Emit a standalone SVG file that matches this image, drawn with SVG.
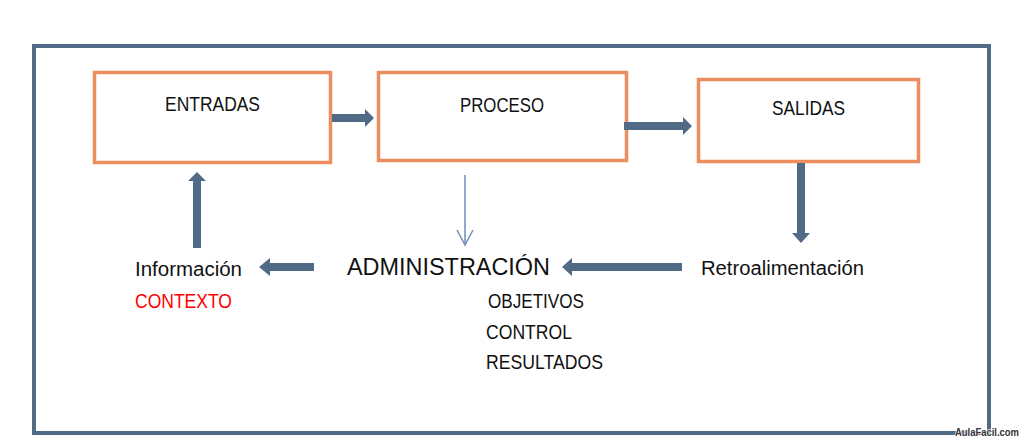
<svg xmlns="http://www.w3.org/2000/svg" width="1024" height="440" viewBox="0 0 1024 440">
<style>
.box{fill:#ffffff;stroke:#ee8d5d;stroke-width:3.5}
.frame{fill:none;stroke:#516a86;stroke-width:4}
.arrow{fill:#516a86}
.t{font-family:"Liberation Sans",Arial,sans-serif;font-size:19.5px;fill:#111111}
.big{font-size:24px}
.red{fill:#ff0000}
.thin{stroke:#6f8db9;stroke-width:1.5;fill:none}
.wm{font-family:"Liberation Sans",Arial,sans-serif;font-size:10.5px;font-weight:bold;fill:#333333;stroke:#ffffff;stroke-width:1.5;paint-order:stroke}
</style>
<rect width="1024" height="440" fill="#ffffff"/>
<rect class="frame" x="34" y="46" width="955" height="387"/>
<g id="entradas">
<rect class="box" x="94.5" y="72.5" width="236" height="90"/>
<text class="t" x="165" y="111" textLength="95" lengthAdjust="spacingAndGlyphs">ENTRADAS</text>
</g>
<g id="proceso">
<rect class="box" x="378.5" y="72.5" width="248" height="88"/>
<text class="t" x="460" y="112" textLength="84" lengthAdjust="spacingAndGlyphs">PROCESO</text>
</g>
<g id="salidas">
<rect class="box" x="698.5" y="79.5" width="220" height="82"/>
<text class="t" x="772" y="115" textLength="73" lengthAdjust="spacingAndGlyphs">SALIDAS</text>
</g>
<g id="informacion">
<text class="t" x="135" y="276" textLength="107" lengthAdjust="spacingAndGlyphs">Información</text>
<text class="t red" x="135" y="308" textLength="97" lengthAdjust="spacingAndGlyphs">CONTEXTO</text>
</g>
<g id="administracion">
<text class="t big" x="347" y="275" textLength="203" lengthAdjust="spacingAndGlyphs">ADMINISTRACIÓN</text>
<text class="t" x="488" y="308" textLength="96" lengthAdjust="spacingAndGlyphs">OBJETIVOS</text>
<text class="t" x="486" y="339" textLength="86" lengthAdjust="spacingAndGlyphs">CONTROL</text>
<text class="t" x="486" y="369" textLength="117" lengthAdjust="spacingAndGlyphs">RESULTADOS</text>
</g>
<g id="retroalimentacion">
<text class="t" x="701" y="275" textLength="163" lengthAdjust="spacingAndGlyphs">Retroalimentación</text>
</g>
<g id="connectors">
<polygon class="arrow" points="332,114 365,114 365,109 374,118 365,127 365,122 332,122"/>
<polygon class="arrow" points="624,122 683,122 683,117 692,126 683,135 683,130 624,130"/>
<polygon class="arrow" points="797,163 805,163 805,233 810,233 801,243 792,233 797,233"/>
<polygon class="arrow" points="682,263 572,263 572,258 562,267 572,276 572,271 682,271"/>
<polygon class="arrow" points="314,263 270,263 270,258 259,267 270,276 270,271 314,271"/>
<polygon class="arrow" points="193,248 193,181 188,181 197,172 206,181 201,181 201,248"/>
<line class="thin" x1="465" y1="175" x2="465" y2="245"/>
<polyline class="thin" points="457,230 465,245 473,230"/>
</g>
<text class="wm" x="955" y="436" textLength="64" lengthAdjust="spacingAndGlyphs">AulaFacil.com</text>
</svg>
